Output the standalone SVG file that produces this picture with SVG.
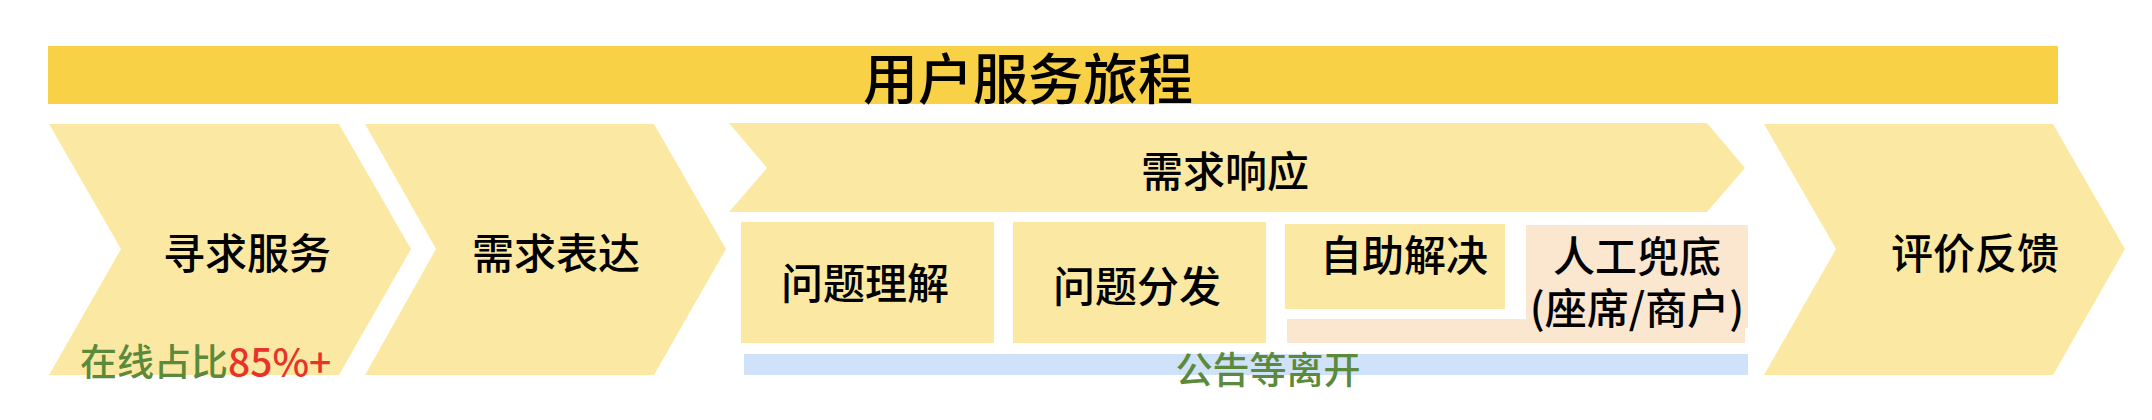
<svg xmlns="http://www.w3.org/2000/svg" width="2152" height="420" viewBox="0 0 2152 420">
<style>
.bg{fill:#ffffff}
.bar{fill:#F8D147}
.chev{fill:#FBE9A3}
.box{fill:#FBE9A3}
.peach{fill:#FBE6CF}
.blue{fill:#CFE2F9}
text{font-family:"Noto Sans CJK SC","Noto Sans",sans-serif;dominant-baseline:central;text-anchor:middle;font-weight:500}
.t{font-size:42px;fill:#000}
.title{font-size:55px;fill:#000}
.green{fill:#5B8A3C;font-size:37px}
.red{fill:#E8332A;font-size:39px}
</style>
<rect class="bg" x="0" y="0" width="2152" height="420"/>
<g id="title">
<rect class="bar" x="48" y="46" width="2010" height="58"/>
<text class="title" x="1028" y="75">用户服务旅程</text>
</g>
<g id="n1">
<polygon class="chev" points="49,124 339,124 411,249 339,375 49,375 121,249"/>
<text class="t" x="247" y="250">寻求服务</text>
<text class="green" x="80" y="360" style="text-anchor:start">在线占比<tspan class="red">85%+</tspan></text>
</g>
<g id="n2">
<polygon class="chev" points="365,124 654,124 726,249 654,375 365,375 436,249"/>
<text class="t" x="556" y="250">需求表达</text>
</g>
<g id="n3">
<polygon class="chev" points="729,123 1707,123 1745,168 1707,212 729,212 767,168"/>
<text class="t" x="1225" y="168">需求响应</text>
</g>
<g id="n4">
<rect class="box" x="741" y="222" width="253" height="121"/>
<text class="t" x="865" y="280">问题理解</text>
</g>
<g id="n5">
<rect class="box" x="1013" y="222" width="253" height="121"/>
<text class="t" x="1137" y="283">问题分发</text>
</g>
<g id="n6">
<rect class="box" x="1285" y="224" width="220" height="85"/>
<text class="t" x="1404" y="252">自助解决</text>
</g>
<g id="n7">
<rect class="peach" x="1287" y="319" width="458" height="24"/>
<rect class="peach" x="1526" y="225" width="222" height="103"/>
<text class="t" x="1637" y="253">人工兜底</text>
<text class="t" x="1637" y="305">(座席/商户)</text>
</g>
<g id="n8">
<rect class="blue" x="744" y="354" width="1004" height="21"/>
<text class="green" x="1268" y="368">公告等离开</text>
</g>
<g id="n9">
<polygon class="chev" points="1764,124 2053,124 2125,249 2053,375 1764,375 1836,249"/>
<text class="t" x="1975" y="250">评价反馈</text>
</g>
<g id="connectors"></g>
</svg>
